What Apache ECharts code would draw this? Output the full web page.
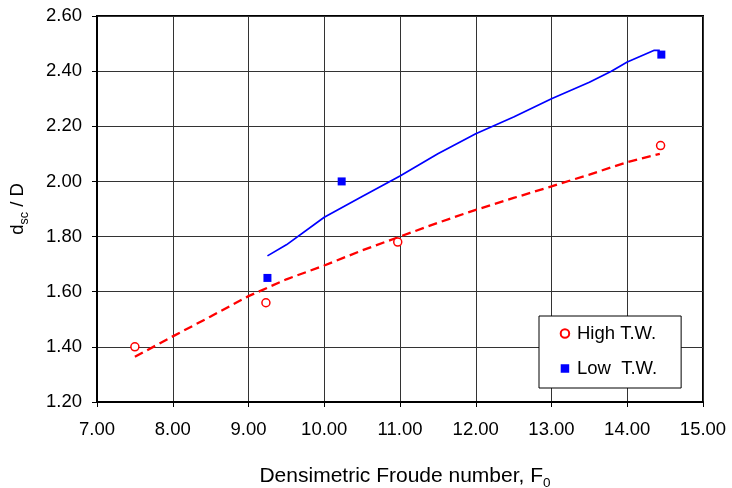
<!DOCTYPE html>
<html>
<head>
<meta charset="utf-8">
<script src="https://cdn.jsdelivr.net/npm/echarts@6/dist/echarts.min.js"></script>
<style>
html,body{margin:0;padding:0;background:#fff;}
#chart{width:732px;height:488px;}
</style>
</head>
<body>
<div id="chart"></div>
<script>
// Measured points
var highTW_x = [7.50, 9.23, 10.97, 14.44];
var highTW_y = [1.40, 1.56, 1.78, 2.13];
var lowTW_x = [9.25, 10.23, 14.45];
var lowTW_y = [1.65, 2.00, 2.46];
// Fitted curves
var highFit_x = [7.5, 8.0, 8.5, 9.0, 9.5, 10.0, 10.5, 11.0, 11.5, 12.0, 12.5, 13.0, 13.5, 14.0, 14.43];
var highFit_y = [1.364, 1.438, 1.51, 1.584, 1.645, 1.695, 1.75, 1.80, 1.85, 1.897, 1.94, 1.982, 2.025, 2.07, 2.10];
var lowFit_x = [9.25, 9.5, 10.0, 10.5, 11.0, 11.5, 12.0, 12.5, 13.0, 13.5, 13.79, 14.0, 14.35, 14.43];
var lowFit_y = [1.73, 1.77, 1.87, 1.945, 2.02, 2.10, 2.173, 2.234, 2.30, 2.36, 2.40, 2.433, 2.475, 2.475];
var seriesNames = ['High T.W.', 'Low  T.W.'];
var xTitle = '{a|Densimetric Froude number, F}{b|0}';
var yTitle = '{a|d}{b|sc}{a| / D}';

function pairs(xs, ys){ return xs.map(function(x,i){ return [x, ys[i]]; }); }

var FONT = 'Liberation Sans, Arial, sans-serif';
var chart = echarts.init(document.getElementById('chart'), null, {renderer:'canvas'});
var xRich = {
  a: {fontSize: 21, fontFamily: FONT, color: '#000', lineHeight: 28, verticalAlign: 'middle'},
  b: {fontSize: 13.5, fontFamily: FONT, color: '#000', lineHeight: 13, verticalAlign: 'bottom'}
};
var yRich = {
  a: {fontSize: 18.5, fontFamily: FONT, color: '#000', lineHeight: 26, verticalAlign: 'middle'},
  b: {fontSize: 12.5, fontFamily: FONT, color: '#000', lineHeight: 12, verticalAlign: 'bottom'}
};
chart.setOption({
  animation: false,
  backgroundColor: '#fff',
  grid: {left: 97, right: 29, top: 16, bottom: 86, show: true, borderColor: '#000', borderWidth: 2,
    backgroundColor: 'transparent', containLabel: false, outerBoundsMode: 'none'},
  xAxis: {
    type: 'value', min: 7, max: 15, interval: 1,
    name: xTitle, nameLocation: 'middle', nameGap: 60,
    nameTextStyle: {rich: xRich, padding: [0, 0, 0, 10]},
    axisLine: {show: true, onZero: false, lineStyle: {color: '#000', width: 2}},
    axisTick: {show: true, inside: false, length: 5, lineStyle: {color: '#000', width: 1}},
    axisLabel: {margin: 18, fontSize: 18.5, fontFamily: FONT, color: '#000', lineHeight: 20,
      formatter: function(v){ return v.toFixed(2); }},
    splitLine: {show: true, lineStyle: {color: '#333', width: 1}}
  },
  yAxis: {
    type: 'value', min: 1.2, max: 2.6, interval: 0.2,
    name: yTitle, nameLocation: 'middle', nameGap: 66,
    nameTextStyle: {rich: yRich},
    axisLine: {show: true, onZero: false, lineStyle: {color: '#000', width: 2}},
    axisTick: {show: true, inside: false, length: 5, lineStyle: {color: '#000', width: 1}},
    axisLabel: {margin: 15, fontSize: 18.5, fontFamily: FONT, color: '#000',
      formatter: function(v){ return v.toFixed(2); }},
    splitLine: {show: true, lineStyle: {color: '#333', width: 1}}
  },
  legend: {
    show: true, orient: 'vertical', left: 539, top: 316,
    padding: [8, 24, 10, 20.7], itemGap: 16, itemWidth: 14, itemHeight: 8.5,
    symbolKeepAspect: true,
    backgroundColor: '#fff', borderColor: '#000', borderWidth: 1, borderRadius: 0,
    textStyle: {fontSize: 18.5, fontFamily: FONT, color: '#000'},
    data: [
      {name: seriesNames[0], icon: 'circle'},
      {name: seriesNames[1], icon: 'path://M0,0L10,0L10,10L0,10Z'}
    ]
  },
  series: [
    {type: 'line', name: 'fitHigh', data: pairs(highFit_x, highFit_y), showSymbol: false, symbol: 'none',
      lineStyle: {color: '#ff0000', width: 2.3, type: [9, 5]}, z: 2, silent: true},
    {type: 'line', name: 'fitLow', data: pairs(lowFit_x, lowFit_y), showSymbol: false, symbol: 'none',
      lineStyle: {color: '#0000ff', width: 1.7}, z: 2, silent: true},
    {type: 'scatter', name: seriesNames[0], data: pairs(highTW_x, highTW_y), symbol: 'circle', symbolSize: 8,
      itemStyle: {color: '#fff', borderColor: '#ff0000', borderWidth: 1.5, opacity: 1}, z: 3},
    {type: 'scatter', name: seriesNames[1], data: pairs(lowTW_x, lowTW_y), symbol: 'rect', symbolSize: 8,
      itemStyle: {color: '#0000ff', opacity: 1}, z: 3}
  ]
});
</script>
</body>
</html>
